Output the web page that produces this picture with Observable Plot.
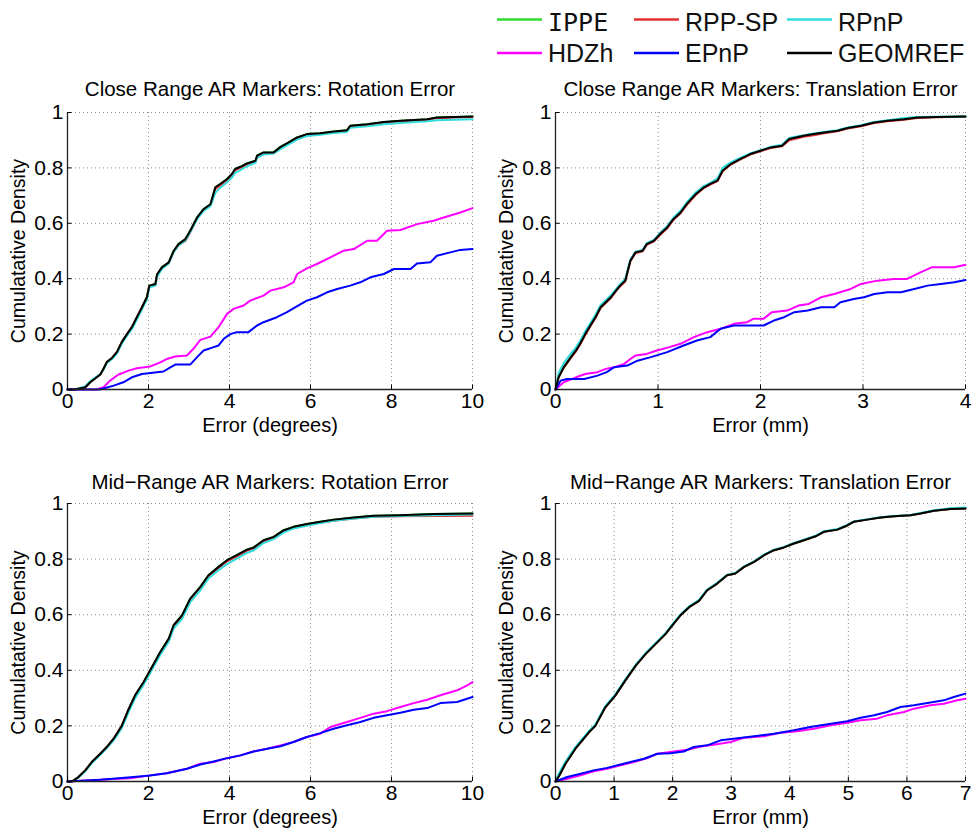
<!DOCTYPE html>
<html>
<head>
<meta charset="utf-8">
<script src="https://cdn.jsdelivr.net/npm/d3@7"></script>
<script src="https://cdn.jsdelivr.net/npm/@observablehq/plot@0.6"></script>
<style>
  body { margin: 0; background: white; }
  #wrap { position: relative; width: 974px; height: 834px; background: white; overflow: hidden; }
  .pane { position: absolute; }
</style>
</head>
<body>
<div id="wrap"></div>
<script>
// ---------- legend / series ----------
const seriesNames = ["IPPE", "RPP-SP", "RPnP", "HDZh", "EPnP", "GEOMREF"];
const seriesColors = ["#30dc30", "#e23030", "#30dcdc", "#ff00ff", "#0000ff", "#000000"];
const yTicks = [0, 0.2, 0.4, 0.6, 0.8, 1];
const yLabel = "Cumulatative Density";

// ---------- Close range: rotation ----------
const tlTitle = "Close Range AR Markers: Rotation Error";
const tlXLabel = "Error (degrees)";
const tlXTicks = [0, 2, 4, 6, 8, 10];
const tlX = [0, 0.19, 0.44, 0.56, 0.81, 0.89, 0.97, 1.10, 1.22, 1.34, 1.47, 1.59, 1.71, 1.84, 1.96, 2.02, 2.17, 2.21, 2.33, 2.50, 2.62, 2.74, 2.91, 3.03, 3.20, 3.36, 3.53, 3.65, 3.77, 3.94, 4.06, 4.14, 4.27, 4.43, 4.64, 4.68, 4.84, 5.09, 5.26, 5.46, 5.67, 5.91, 6.24, 6.57, 6.90, 6.98, 7.40, 7.81, 8.22, 8.88, 9.12, 10];
const tlGeomref = [0, 0, 0.008, 0.026, 0.054, 0.075, 0.099, 0.114, 0.135, 0.171, 0.20, 0.225, 0.26, 0.297, 0.333, 0.375, 0.381, 0.415, 0.441, 0.459, 0.50, 0.525, 0.543, 0.573, 0.621, 0.651, 0.669, 0.73, 0.742, 0.76, 0.778, 0.796, 0.804, 0.816, 0.826, 0.844, 0.856, 0.856, 0.876, 0.892, 0.91, 0.922, 0.925, 0.931, 0.936, 0.952, 0.958, 0.966, 0.970, 0.976, 0.982, 0.986];
const tlIppe = [0, 0, 0.008, 0.026, 0.054, 0.075, 0.099, 0.114, 0.135, 0.171, 0.20, 0.225, 0.26, 0.297, 0.333, 0.375, 0.381, 0.415, 0.441, 0.459, 0.50, 0.525, 0.543, 0.573, 0.621, 0.651, 0.669, 0.73, 0.742, 0.76, 0.778, 0.796, 0.804, 0.816, 0.826, 0.844, 0.856, 0.856, 0.876, 0.892, 0.91, 0.922, 0.925, 0.931, 0.936, 0.952, 0.958, 0.966, 0.970, 0.976, 0.982, 0.986];
const tlRppsp = [0, 0, 0.008, 0.026, 0.054, 0.075, 0.099, 0.114, 0.135, 0.171, 0.20, 0.225, 0.26, 0.297, 0.333, 0.372, 0.378, 0.412, 0.438, 0.456, 0.497, 0.52, 0.536, 0.568, 0.617, 0.648, 0.666, 0.724, 0.737, 0.756, 0.774, 0.792, 0.8, 0.813, 0.823, 0.84, 0.853, 0.854, 0.873, 0.89, 0.908, 0.92, 0.923, 0.929, 0.934, 0.95, 0.956, 0.964, 0.968, 0.974, 0.98, 0.984];
const tlRpnp = [0, 0, 0.012, 0.03, 0.056, 0.072, 0.095, 0.11, 0.13, 0.165, 0.195, 0.218, 0.252, 0.29, 0.325, 0.368, 0.375, 0.405, 0.435, 0.455, 0.495, 0.52, 0.538, 0.568, 0.615, 0.645, 0.662, 0.71, 0.728, 0.748, 0.765, 0.782, 0.792, 0.806, 0.818, 0.836, 0.848, 0.852, 0.868, 0.885, 0.902, 0.915, 0.92, 0.926, 0.93, 0.945, 0.95, 0.958, 0.962, 0.968, 0.972, 0.976];
const tlHdzhX = [0, 0.72, 0.89, 1.05, 1.26, 1.51, 1.71, 2.04, 2.25, 2.45, 2.66, 2.95, 3.11, 3.28, 3.53, 3.73, 3.94, 4.10, 4.35, 4.51, 4.84, 5.01, 5.34, 5.58, 5.67, 5.91, 6.16, 6.49, 6.82, 7.07, 7.40, 7.64, 7.89, 8.22, 8.63, 9.04, 9.29, 9.70, 10];
const tlHdzh = [0, 0, 0.008, 0.032, 0.054, 0.068, 0.077, 0.083, 0.095, 0.11, 0.119, 0.123, 0.147, 0.179, 0.191, 0.225, 0.273, 0.291, 0.303, 0.321, 0.339, 0.357, 0.369, 0.387, 0.417, 0.4375, 0.453, 0.477, 0.501, 0.507, 0.537, 0.537, 0.573, 0.576, 0.597, 0.609, 0.621, 0.639, 0.655];
const tlEpnpX = [0, 0.8, 1.14, 1.38, 1.59, 1.84, 2.21, 2.37, 2.54, 2.66, 3.03, 3.20, 3.36, 3.61, 3.73, 3.86, 4.02, 4.18, 4.47, 4.68, 4.84, 5.17, 5.42, 5.63, 5.91, 6.16, 6.41, 6.66, 6.98, 7.23, 7.48, 7.81, 8.06, 8.47, 8.63, 8.96, 9.12, 9.45, 9.70, 10];
const tlEpnp = [0, 0, 0.014, 0.026, 0.044, 0.056, 0.0625, 0.065, 0.08, 0.09, 0.09, 0.117, 0.141, 0.153, 0.159, 0.183, 0.20, 0.207, 0.207, 0.231, 0.243, 0.261, 0.279, 0.297, 0.321, 0.333, 0.351, 0.363, 0.375, 0.387, 0.405, 0.417, 0.435, 0.435, 0.455, 0.459, 0.483, 0.495, 0.504, 0.507];

// ---------- Close range: translation ----------
const trTitle = "Close Range AR Markers: Translation Error";
const trXLabel = "Error (mm)";
const trXTicks = [0, 1, 2, 3, 4];
const trX = [0, 0.03, 0.08, 0.15, 0.20, 0.24, 0.29, 0.34, 0.39, 0.44, 0.49, 0.54, 0.59, 0.63, 0.68, 0.73, 0.78, 0.85, 0.89, 0.96, 1.02, 1.09, 1.15, 1.22, 1.28, 1.37, 1.45, 1.51, 1.58, 1.63, 1.71, 1.80, 1.90, 2.00, 2.10, 2.21, 2.28, 2.42, 2.52, 2.62, 2.75, 2.85, 2.98, 3.11, 3.24, 3.40, 3.53, 3.72, 4];
const trGeomref = [0, 0.044, 0.08, 0.117, 0.141, 0.165, 0.20, 0.231, 0.261, 0.297, 0.315, 0.333, 0.357, 0.375, 0.393, 0.465, 0.495, 0.501, 0.525, 0.537, 0.561, 0.585, 0.615, 0.639, 0.669, 0.706, 0.73, 0.742, 0.754, 0.79, 0.814, 0.832, 0.85, 0.862, 0.874, 0.88, 0.904, 0.916, 0.922, 0.928, 0.934, 0.944, 0.952, 0.964, 0.970, 0.976, 0.982, 0.984, 0.986];
const trIppe = [0, 0.044, 0.08, 0.117, 0.141, 0.165, 0.20, 0.231, 0.261, 0.297, 0.315, 0.333, 0.357, 0.375, 0.393, 0.465, 0.495, 0.501, 0.525, 0.537, 0.561, 0.585, 0.615, 0.639, 0.669, 0.706, 0.73, 0.742, 0.754, 0.79, 0.814, 0.832, 0.85, 0.862, 0.874, 0.88, 0.904, 0.916, 0.922, 0.928, 0.934, 0.944, 0.952, 0.964, 0.970, 0.976, 0.982, 0.984, 0.986];
const trRppsp = [0, 0.044, 0.078, 0.114, 0.138, 0.162, 0.197, 0.228, 0.258, 0.294, 0.312, 0.33, 0.355, 0.372, 0.39, 0.462, 0.492, 0.499, 0.522, 0.535, 0.558, 0.582, 0.612, 0.636, 0.666, 0.703, 0.728, 0.74, 0.752, 0.788, 0.812, 0.83, 0.848, 0.86, 0.872, 0.878, 0.9, 0.912, 0.918, 0.925, 0.932, 0.942, 0.95, 0.962, 0.968, 0.974, 0.98, 0.983, 0.985];
const trRpnp = [0, 0.06, 0.095, 0.13, 0.152, 0.175, 0.21, 0.24, 0.27, 0.305, 0.322, 0.34, 0.362, 0.38, 0.398, 0.468, 0.497, 0.504, 0.528, 0.54, 0.565, 0.59, 0.62, 0.645, 0.675, 0.712, 0.735, 0.746, 0.762, 0.80, 0.82, 0.836, 0.852, 0.864, 0.876, 0.884, 0.908, 0.918, 0.924, 0.93, 0.936, 0.946, 0.954, 0.966, 0.972, 0.98, 0.984, 0.985, 0.986];
const trHdzhX = [0, 0.08, 0.20, 0.29, 0.41, 0.49, 0.57, 0.67, 0.73, 0.78, 0.89, 0.99, 1.11, 1.22, 1.35, 1.48, 1.61, 1.74, 1.87, 1.93, 2.03, 2.11, 2.26, 2.37, 2.47, 2.59, 2.72, 2.88, 2.98, 3.14, 3.30, 3.43, 3.56, 3.67, 3.89, 4];
const trHdzh = [0, 0.026, 0.044, 0.056, 0.0625, 0.0745, 0.08, 0.0925, 0.11, 0.1225, 0.1285, 0.141, 0.153, 0.165, 0.189, 0.207, 0.219, 0.237, 0.243, 0.255, 0.255, 0.279, 0.285, 0.303, 0.309, 0.333, 0.345, 0.363, 0.381, 0.393, 0.399, 0.399, 0.423, 0.441, 0.441, 0.45];
const trEpnpX = [0, 0.05, 0.11, 0.28, 0.41, 0.50, 0.57, 0.70, 0.80, 0.93, 1.09, 1.25, 1.38, 1.51, 1.61, 1.74, 2.03, 2.13, 2.23, 2.33, 2.46, 2.59, 2.72, 2.78, 2.91, 3.01, 3.11, 3.24, 3.37, 3.50, 3.63, 3.76, 3.89, 4];
const trEpnp = [0, 0.032, 0.038, 0.038, 0.05, 0.0625, 0.08, 0.0865, 0.104, 0.117, 0.135, 0.159, 0.177, 0.189, 0.219, 0.231, 0.231, 0.249, 0.261, 0.279, 0.285, 0.297, 0.297, 0.315, 0.327, 0.333, 0.345, 0.351, 0.351, 0.363, 0.375, 0.381, 0.387, 0.395];

// ---------- Mid range: rotation ----------
const blTitle = "Mid\u2212Range AR Markers: Rotation Error";
const blXLabel = "Error (degrees)";
const blXTicks = [0, 2, 4, 6, 8, 10];
const blX = [0, 0.11, 0.27, 0.44, 0.60, 0.81, 0.97, 1.14, 1.34, 1.51, 1.67, 1.88, 2.08, 2.29, 2.50, 2.62, 2.83, 3.03, 3.28, 3.48, 3.73, 3.94, 4.18, 4.43, 4.60, 4.84, 5.09, 5.34, 5.58, 5.91, 6.24, 6.57, 7.07, 7.56, 8.22, 9.04, 10];
const blGeomref = [0, 0, 0.016, 0.04, 0.07, 0.10, 0.124, 0.154, 0.20, 0.26, 0.31, 0.358, 0.41, 0.466, 0.514, 0.562, 0.598, 0.658, 0.70, 0.742, 0.772, 0.796, 0.814, 0.834, 0.842, 0.868, 0.88, 0.904, 0.916, 0.926, 0.934, 0.942, 0.95, 0.956, 0.958, 0.962, 0.964];
const blIppe = [0, 0, 0.016, 0.04, 0.07, 0.10, 0.124, 0.154, 0.20, 0.26, 0.31, 0.358, 0.41, 0.466, 0.514, 0.562, 0.598, 0.658, 0.70, 0.742, 0.772, 0.796, 0.814, 0.834, 0.842, 0.868, 0.88, 0.904, 0.916, 0.926, 0.934, 0.942, 0.95, 0.956, 0.958, 0.962, 0.964];
const blRppsp = [0, 0, 0.016, 0.04, 0.07, 0.10, 0.124, 0.154, 0.20, 0.26, 0.31, 0.357, 0.408, 0.463, 0.51, 0.558, 0.594, 0.652, 0.696, 0.738, 0.768, 0.792, 0.81, 0.83, 0.838, 0.864, 0.877, 0.9, 0.913, 0.923, 0.931, 0.938, 0.946, 0.952, 0.954, 0.955, 0.956];
const blRpnp = [0, 0, 0.014, 0.037, 0.066, 0.096, 0.12, 0.148, 0.192, 0.25, 0.30, 0.348, 0.40, 0.455, 0.503, 0.55, 0.585, 0.645, 0.688, 0.73, 0.76, 0.782, 0.802, 0.822, 0.832, 0.858, 0.872, 0.896, 0.91, 0.92, 0.93, 0.938, 0.946, 0.952, 0.955, 0.958, 0.96];
const blHdzhX = [0, 0.81, 1.63, 2.04, 2.45, 2.95, 3.28, 3.61, 3.94, 4.27, 4.60, 4.93, 5.26, 5.58, 5.91, 6.24, 6.49, 6.90, 7.23, 7.56, 7.89, 8.22, 8.55, 8.88, 9.21, 9.62, 9.87, 10];
const blHdzh = [0, 0.006, 0.013, 0.022, 0.03, 0.046, 0.064, 0.07, 0.084, 0.094, 0.109, 0.118, 0.13, 0.142, 0.16, 0.172, 0.196, 0.214, 0.229, 0.244, 0.253, 0.268, 0.282, 0.294, 0.31, 0.328, 0.346, 0.358];
const blEpnpX = [0, 0.81, 1.63, 2.04, 2.45, 2.95, 3.28, 3.61, 3.94, 4.27, 4.60, 4.93, 5.26, 5.58, 5.91, 6.24, 6.57, 6.90, 7.23, 7.56, 7.89, 8.22, 8.55, 8.88, 9.21, 9.62, 10];
const blEpnp = [0, 0.006, 0.016, 0.022, 0.03, 0.046, 0.061, 0.072, 0.084, 0.094, 0.108, 0.118, 0.127, 0.142, 0.16, 0.174, 0.19, 0.202, 0.214, 0.229, 0.238, 0.247, 0.258, 0.264, 0.282, 0.286, 0.304];

// ---------- Mid range: translation ----------
const brTitle = "Mid\u2212Range AR Markers: Translation Error";
const brXLabel = "Error (mm)";
const brXTicks = [0, 1, 2, 3, 4, 5, 6, 7];
const brX = [0, 0.06, 0.17, 0.34, 0.57, 0.68, 0.85, 1.02, 1.19, 1.37, 1.54, 1.71, 1.88, 1.99, 2.13, 2.28, 2.45, 2.59, 2.76, 2.93, 3.07, 3.22, 3.39, 3.56, 3.73, 3.90, 4.07, 4.24, 4.44, 4.58, 4.81, 4.95, 5.09, 5.32, 5.55, 5.78, 6.06, 6.23, 6.46, 6.74, 7];
const brGeomref = [0, 0.02, 0.064, 0.118, 0.177, 0.20, 0.267, 0.309, 0.363, 0.417, 0.459, 0.495, 0.531, 0.561, 0.597, 0.627, 0.65, 0.688, 0.712, 0.742, 0.748, 0.772, 0.79, 0.814, 0.832, 0.842, 0.856, 0.868, 0.882, 0.898, 0.906, 0.918, 0.934, 0.942, 0.95, 0.954, 0.958, 0.964, 0.974, 0.98, 0.982];
const brIppe = [0, 0.02, 0.064, 0.118, 0.177, 0.20, 0.267, 0.309, 0.363, 0.417, 0.459, 0.495, 0.531, 0.561, 0.597, 0.627, 0.65, 0.688, 0.712, 0.742, 0.748, 0.772, 0.79, 0.814, 0.832, 0.842, 0.856, 0.868, 0.882, 0.898, 0.906, 0.918, 0.934, 0.942, 0.95, 0.954, 0.958, 0.964, 0.974, 0.98, 0.982];
const brRppsp = [0, 0.02, 0.064, 0.118, 0.177, 0.20, 0.267, 0.309, 0.363, 0.417, 0.459, 0.495, 0.531, 0.561, 0.597, 0.627, 0.65, 0.688, 0.712, 0.742, 0.748, 0.772, 0.79, 0.814, 0.832, 0.842, 0.856, 0.868, 0.882, 0.898, 0.906, 0.918, 0.934, 0.942, 0.95, 0.954, 0.958, 0.964, 0.974, 0.98, 0.982];
const brRpnp = [0, 0.03, 0.072, 0.124, 0.181, 0.205, 0.271, 0.313, 0.367, 0.42, 0.462, 0.498, 0.534, 0.564, 0.6, 0.63, 0.653, 0.69, 0.715, 0.744, 0.75, 0.774, 0.792, 0.816, 0.834, 0.844, 0.858, 0.87, 0.884, 0.9, 0.908, 0.92, 0.935, 0.943, 0.951, 0.955, 0.959, 0.966, 0.976, 0.983, 0.986];
const brHdzhX = [0, 0.20, 0.43, 0.65, 0.88, 1.11, 1.34, 1.57, 1.74, 2.02, 2.25, 2.48, 2.70, 2.99, 3.22, 3.56, 3.84, 4.13, 4.41, 4.70, 4.98, 5.21, 5.49, 5.66, 5.95, 6.12, 6.40, 6.63, 6.86, 7];
const brHdzh = [0, 0.01, 0.022, 0.037, 0.046, 0.058, 0.07, 0.084, 0.10, 0.108, 0.114, 0.126, 0.132, 0.142, 0.157, 0.163, 0.175, 0.181, 0.19, 0.202, 0.211, 0.22, 0.226, 0.238, 0.25, 0.262, 0.274, 0.28, 0.292, 0.298];
const brEpnpX = [0, 0.20, 0.43, 0.65, 0.88, 1.11, 1.28, 1.51, 1.74, 1.96, 2.19, 2.36, 2.59, 2.82, 3.04, 3.39, 3.73, 4.07, 4.35, 4.70, 4.98, 5.21, 5.44, 5.66, 5.89, 6.12, 6.35, 6.63, 6.80, 7];
const brEpnp = [0, 0.016, 0.028, 0.04, 0.049, 0.061, 0.07, 0.082, 0.10, 0.102, 0.108, 0.124, 0.13, 0.148, 0.154, 0.163, 0.172, 0.184, 0.196, 0.208, 0.217, 0.229, 0.238, 0.25, 0.268, 0.274, 0.282, 0.292, 0.304, 0.316];

// ---------- helpers ----------
const FONT = "'Liberation Sans', Arial, Helvetica, sans-serif";
function zip(xs, ys, s) { return xs.map((x, i) => ({x, y: ys[i], s})); }

function panel(cfg) {
  const [x0, x1] = [cfg.xTicks[0], cfg.xTicks[cfg.xTicks.length - 1]];
  const lines = cfg.series.map(([xs, ys], i) =>
    Plot.line(zip(xs, ys, seriesNames[i]), {
      x: "x", y: "y", stroke: seriesColors[i], strokeWidth: 2, strokeLinejoin: "round"
    }));
  return Plot.plot({
    width: cfg.width, height: cfg.height,
    marginLeft: cfg.ml, marginRight: cfg.mr, marginTop: cfg.mt, marginBottom: cfg.mb,
    x: {domain: [x0, x1]},
    y: {domain: [0, 1]},
    style: {fontFamily: FONT, fontSize: "21px", background: "white", overflow: "visible", color: "black"},
    marks: [
      Plot.ruleX(cfg.xTicks.slice(1), {stroke: "#8a8a8a", strokeWidth: 1, strokeDasharray: "1,3"}),
      Plot.ruleY(yTicks.slice(1), {stroke: "#8a8a8a", strokeWidth: 1, strokeDasharray: "1,3"}),
      ...lines,
      Plot.ruleX([x0], {stroke: "#222", strokeWidth: 1.3}),
      Plot.ruleY([0], {stroke: "#222", strokeWidth: 1.3}),
      Plot.ruleX(cfg.xTicks, {y1: 0, y2: 0.016, stroke: "black", strokeWidth: 1}),
      Plot.ruleY(yTicks, {x1: x0, x2: x0 + (x1 - x0) * 0.011, stroke: "black", strokeWidth: 1}),
      Plot.axisX(cfg.xTicks, {tickSize: 0, tickPadding: 4, fontSize: 21, label: null, tickFormat: d => String(d)}),
      Plot.axisY(yTicks, {tickSize: 0, tickPadding: 4, fontSize: 21, label: null, tickFormat: d => String(d)}),
      Plot.text([cfg.xLabel], {frameAnchor: "bottom", textAnchor: "middle", lineAnchor: "middle", dy: 36, fontSize: 20}),
      Plot.text([yLabel], {frameAnchor: "left", textAnchor: "middle", lineAnchor: "middle", rotate: -90, dx: -49, fontSize: 19.5}),
      Plot.text([cfg.title], {frameAnchor: "top", textAnchor: "middle", lineAnchor: "middle", dy: cfg.tdy, fontSize: 20.5})
    ]
  });
}

const wrap = document.getElementById("wrap");
function place(node, left, top) {
  node.classList.add("pane");
  node.style.left = left + "px";
  node.style.top = top + "px";
  wrap.appendChild(node);
}

// series order: IPPE, RPP-SP, RPnP, HDZh, EPnP, GEOMREF (drawn in this order, black on top)
place(panel({title: tlTitle, xLabel: tlXLabel, xTicks: tlXTicks, width: 487, height: 390, ml: 67, mr: 15, mt: 42, mb: 71, tdy: -23,
  series: [[tlX, tlIppe], [tlX, tlRppsp], [tlX, tlRpnp], [tlHdzhX, tlHdzh], [tlEpnpX, tlEpnp], [tlX, tlGeomref]]}), 0, 70);
place(panel({title: trTitle, xLabel: trXLabel, xTicks: trXTicks, width: 487, height: 390, ml: 68, mr: 9, mt: 42, mb: 71, tdy: -23,
  series: [[trX, trIppe], [trX, trRppsp], [trX, trRpnp], [trHdzhX, trHdzh], [trEpnpX, trEpnp], [trX, trGeomref]]}), 487, 70);
place(panel({title: blTitle, xLabel: blXLabel, xTicks: blXTicks, width: 487, height: 374, ml: 67, mr: 15, mt: 43, mb: 53, tdy: -21,
  series: [[blX, blIppe], [blX, blRppsp], [blX, blRpnp], [blHdzhX, blHdzh], [blEpnpX, blEpnp], [blX, blGeomref]]}), 0, 460);
place(panel({title: brTitle, xLabel: brXLabel, xTicks: brXTicks, width: 487, height: 374, ml: 68, mr: 9, mt: 43, mb: 53, tdy: -21,
  series: [[brX, brIppe], [brX, brRppsp], [brX, brRpnp], [brHdzhX, brHdzh], [brEpnpX, brEpnp], [brX, brGeomref]]}), 487, 460);

// ---------- legend ----------
const legendCols = [497, 634, 787];
const legendRows = [{line: 19.5, base: 30.5}, {line: 53, base: 62}];
const svg = d3.create("svg").attr("width", 974).attr("height", 70).style("overflow", "visible");
seriesNames.forEach((name, i) => {
  const col = legendCols[i % 3], row = legendRows[Math.floor(i / 3)];
  svg.append("line").attr("x1", col).attr("x2", col + 45).attr("y1", row.line).attr("y2", row.line)
    .attr("stroke", seriesColors[i]).attr("stroke-width", 2.5);
  svg.append("text").attr("x", col + 51).attr("y", row.base)
    .attr("font-family", name === "IPPE" ? "'DejaVu Sans Mono', monospace" : FONT)
    .attr("font-size", 25).attr("fill", "#111").text(name);
});
place(svg.node(), 0, 0);
</script>
</body>
</html>
